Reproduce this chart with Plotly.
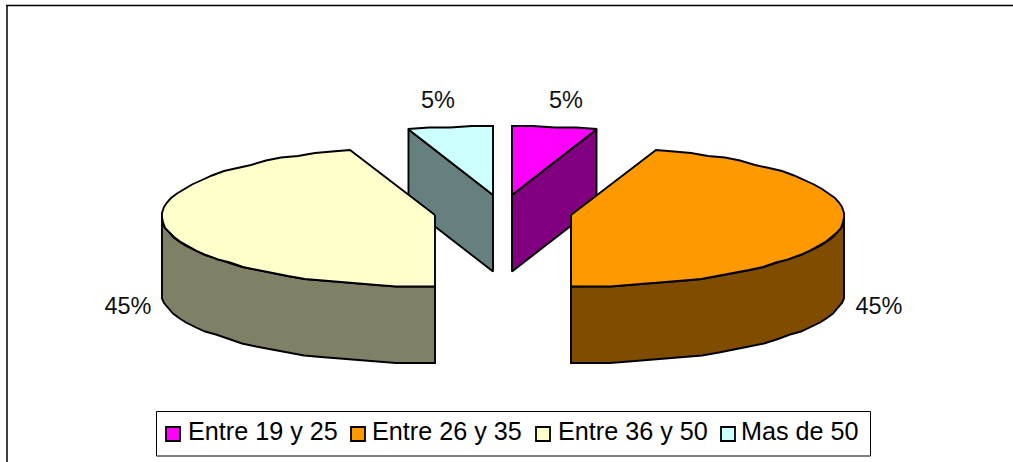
import numpy as np
import plotly.graph_objects as go

# Age bands and their share of respondents (percent)
categories = ["Entre 19 y 25", "Entre 26 y 35", "Entre 36 y 50", "Mas de 50"]
shares = [5, 45, 45, 5]

top_colors = ["#FF00FF", "#FF9900", "#FFFFCC", "#CCFFFF"]
side_colors = ["#800080", "#804C00", "#808066", "#668080"]

# Projection of the exploded pie: pixel-like axes with the y axis pointing down
RX, RY, DEPTH = 273.5, 70.5, 76.5
RIM_DROP = 1.5
apex_x = [512, 571, 435, 493]
apex_y = [195, 215, 215, 195]
label_x = [566, 879, 128, 438]
label_y = [102, 308, 308, 102]
legend_swatch_x = [173, 358, 543, 728]
legend_text_x = [188, 372, 558, 741]
LEGEND_Y = 434


def rim_point(cx, cy, angle):
    t = np.radians(angle)
    return cx + RX * np.sin(t), cy + RIM_DROP - RY * np.cos(t)


def arc(cx, cy, start, stop):
    """Outline of the rim between two clock angles, on a coarse drawing grid."""
    n = max(2, int(abs(stop - start) / 4) + 1)
    x, y = rim_point(cx, cy, np.linspace(start, stop, n))
    return np.round(x), np.round(y / 1.5) * 1.5


stops = np.cumsum([0] + shares) / sum(shares) * 360
fig = go.Figure()


def polygon(x, y, fill):
    fig.add_trace(go.Scatter(
        x=list(x), y=list(y), mode="lines", fill="toself", fillcolor=fill,
        line=dict(color="black", width=1.9), hoverinfo="skip", showlegend=False,
    ))


# Back slices first so the two large slices overlap them
for i in [0, 3, 1, 2]:
    a0, a1 = stops[i], stops[i + 1]
    cx, cy = apex_x[i], apex_y[i]

    # Cut faces turned towards the viewer
    if i in (0, 3):
        ex, ey = rim_point(cx, cy, a1 if i == 0 else a0)
        polygon([cx, ex, ex, cx, cx], [cy, ey, ey + DEPTH, cy + DEPTH, cy], side_colors[i])

    # Outer wall: only the part of the rim on the near side of the pie
    w0, w1 = max(a0, 90), min(a1, 270)
    if w1 > w0:
        wx, wy = arc(cx, cy, w0, w1)
        polygon(np.r_[wx, wx[::-1], wx[0]], np.r_[wy, wy[::-1] + DEPTH, wy[0]], side_colors[i])

    # Top surface
    tx, ty = arc(cx, cy, a0, a1)
    polygon(np.r_[cx, tx, cx], np.r_[cy, ty, cy], top_colors[i])

# Percentage labels
fig.add_trace(go.Scatter(
    x=label_x, y=label_y, mode="text", text=[f"{v}%" for v in shares],
    textposition="middle center", textfont=dict(family="Liberation Sans", size=23.5, color="#111111"),
    hoverinfo="skip", showlegend=False,
))

# Legend row
fig.add_trace(go.Scatter(
    x=legend_swatch_x, y=[LEGEND_Y] * 4, mode="markers",
    marker=dict(symbol="square", size=14, color=top_colors, line=dict(color="black", width=1.8)),
    hoverinfo="skip", showlegend=False,
))
fig.add_trace(go.Scatter(
    x=legend_text_x, y=[LEGEND_Y] * 4, mode="text", text=categories,
    textposition="middle right", textfont=dict(family="Liberation Sans", size=25.2, color="black"),
    hoverinfo="skip", showlegend=False,
))

fig.update_layout(
    width=1013, height=462, autosize=False,
    margin=dict(l=0, r=0, t=0, b=0),
    paper_bgcolor="white", plot_bgcolor="white", showlegend=False,
    xaxis=dict(range=[0, 1013], visible=False, fixedrange=True),
    yaxis=dict(range=[462, 0], visible=False, fixedrange=True),
    shapes=[
        dict(type="line", x0=7, x1=7, y0=5, y1=462, line=dict(color="#404040", width=2)),
        dict(type="line", x0=6, x1=1013, y0=5.5, y1=5.5, line=dict(color="black", width=1.6)),
        dict(type="rect", x0=156.5, x1=870.5, y0=411.5, y1=456, line=dict(color="black", width=1),
             fillcolor="white", layer="below"),
    ],
)

fig.write_html("out.html", config=dict(displayModeBar=False))
